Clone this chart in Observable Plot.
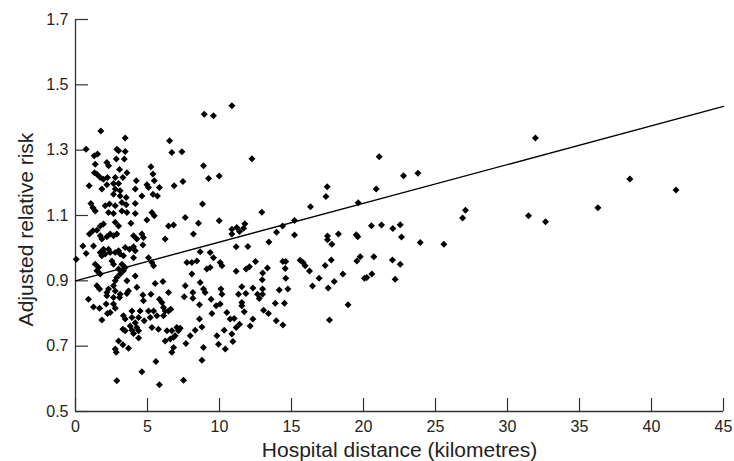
<!DOCTYPE html>
<html><head><meta charset="utf-8">
<script src="https://cdn.jsdelivr.net/npm/d3@7"></script>
<script src="https://cdn.jsdelivr.net/npm/@observablehq/plot@0.6"></script>
<style>html,body{margin:0;padding:0;background:#fff}#chart svg{display:block}</style>
</head><body><div id="chart"></div>
<script>
// Hospital distance (km) and adjusted relative risk
const distance = [
31.94,31.46,32.64,36.28,38.5,41.7,
10.86,12.25,21.09,22.78,23.78,17.48,17.39,20.88,19.63,16.32,12.94,15.21,14.38,
10.86,10.86,11.2,11.39,11.67,11.76,13.96,13.43,15.21,11.16,11.97,17.5,17.5,17.8,18.26,19.5,19.6,
20.55,21.25,22.04,22.55,22.64,23.94,25.58,26.88,27.08,
11.16,11.85,12.08,12.5,13.0,13.33,14.4,14.6,14.56,15.6,15.8,15.95,16.25,17.34,17.76,18.57,19.54,19.77,
20.72,22.01,22.55,20.58,20.07,20.23,22.2,12.97,14.6,16.92,17.97,
11.02,10.86,10.93,11.16,11.39,11.32,11.83,11.55,11.55,11.55,11.72,12.32,12.32,12.13,12.64,12.76,12.99,12.99,
13.06,13.4,13.87,14.15,13.94,14.4,14.51,14.75,16.46,17.55,18.93,17.64,
0.74,1.76,0.95,1.37,3.45,2.87,2.99,3.45,1.3,1.53,2.83,3.39,2.18,2.3,3.06,3.57,1.32,1.49,1.72,1.94,2.22,2.76,3.29,
2.18,2.64,2.99,1.83,2.76,3.1,2.64,3.1,3.52,1.07,1.21,1.37,2.06,2.36,2.76,3.22,3.52,2.29,2.64,3.22,3.57,
4.22,4.15,4.61,4.15,4.15,3.85,5.24,5.38,5.47,4.96,5.07,5.83,5.38,5.69,5.31,5.47,4.96,
6.53,6.69,7.39,6.85,7.46,7.62,6.46,6.81,8.54,8.94,9.58,8.89,9.24,9.98,8.82,9.98,
1.94,2.76,2.99,6.23,8.19,
0.05,0.51,0.74,0.97,1.21,1.49,1.72,1.25,1.72,1.83,2.18,2.41,2.64,2.87,1.94,1.72,1.83,2.06,1.37,1.6,1.49,1.72,
2.29,2.41,2.53,2.64,2.76,2.99,3.1,3.33,3.45,3.75,3.22,3.45,3.33,2.99,3.1,2.87,2.76,
4.03,4.26,4.03,4.15,4.03,4.61,4.72,4.68,5.31,5.42,5.07,4.15,4.26,3.57,3.68,3.57,3.1,3.06,2.64,2.29,2.76,2.64,2.18,2.18,
1.49,1.67,2.64,2.76,2.41,2.13,1.83,2.22,3.33,3.45,3.92,3.92,4.15,3.8,3.92,3.29,3.45,4.26,4.38,4.03,4.38,
2.99,3.29,3.68,2.76,2.83,2.87,4.61,5.58,5.83,7.5,
4.38,4.49,4.72,4.77,5.07,5.19,5.42,5.65,5.31,5.76,4.68,5.24,5.53,6.07,5.83,6.0,6.11,6.23,6.11,6.46,6.62,6.46,
6.35,6.69,6.23,6.58,6.81,6.92,7.15,7.04,7.27,6.81,6.69,7.67,7.97,8.31,8.78,8.61,7.62,7.55,
7.74,8.08,8.43,8.08,8.15,8.15,8.66,8.66,8.61,8.89,9.0,9.12,9.35,8.89,8.78,9.35,9.58,9.42,9.47,9.77,9.82,9.93,
10.05,10.17,10.1,10.17,10.05,10.4,10.33,10.51,10.74,0.9,1.67,1.25
];
const risk = [
1.337,1.099,1.081,1.124,1.212,1.178,
1.436,1.274,1.28,1.222,1.229,1.188,1.158,1.181,1.139,1.127,1.110,1.085,1.068,
1.058,1.043,1.063,1.051,1.061,1.075,1.049,1.019,1.04,1.004,1.005,1.037,1.026,1.012,1.043,1.041,1.035,
1.069,1.071,1.06,1.072,1.034,1.017,1.012,1.092,1.116,
0.929,0.936,0.943,0.959,0.924,0.939,0.959,0.959,0.938,0.963,0.956,0.946,0.93,0.947,0.964,0.921,0.961,0.974,
0.974,0.964,0.951,0.921,0.908,0.91,0.905,0.903,0.908,0.908,0.898,
0.785,0.737,0.714,0.757,0.767,0.859,0.861,0.882,0.834,0.824,0.805,0.878,0.783,0.762,0.859,0.846,0.875,0.859,
0.81,0.8,0.831,0.872,0.778,0.765,0.831,0.875,0.884,0.878,0.827,0.78,
1.303,1.359,1.191,1.257,1.337,1.303,1.298,1.296,1.283,1.288,1.273,1.273,1.262,1.252,1.241,1.231,1.231,1.226,1.216,1.211,1.216,1.216,1.216,
1.194,1.198,1.198,1.181,1.181,1.176,1.165,1.16,1.155,1.137,1.124,1.114,1.13,1.135,1.13,1.14,1.133,1.109,1.106,1.114,1.109,
1.206,1.181,1.16,1.137,1.106,1.076,1.249,1.227,1.206,1.194,1.186,1.186,1.165,1.16,1.109,1.099,1.086,
1.329,1.293,1.295,1.191,1.204,1.094,1.068,1.071,1.076,1.41,1.405,1.252,1.213,1.221,1.135,1.084,
1.074,1.079,1.068,1.028,1.043,
0.966,1.007,0.984,1.043,1.053,1.055,1.068,1.007,1.038,1.028,1.035,1.043,1.038,1.043,0.997,0.987,0.977,0.982,0.951,0.941,0.931,0.921,
0.997,0.987,0.961,0.951,0.987,0.992,0.982,0.977,1.002,0.997,0.951,0.941,0.931,0.936,0.921,0.910,0.9,
1.038,1.028,1.004,0.992,0.971,1.043,1.033,1.01,0.956,0.946,0.971,0.915,0.88,0.9,0.869,0.861,0.859,0.849,0.885,0.875,0.869,0.849,0.864,0.854,
0.885,0.875,0.829,0.816,0.803,0.829,0.78,0.8,0.793,0.783,0.808,0.788,0.772,0.762,0.749,0.752,0.747,0.757,0.747,0.739,0.725,
0.716,0.704,0.694,0.691,0.681,0.594,0.622,0.653,0.582,0.596,
0.788,0.808,0.839,0.778,0.808,0.788,0.808,0.793,0.757,0.752,0.857,0.859,0.892,0.898,0.844,0.834,0.818,0.808,0.793,0.808,0.813,0.864,
0.747,0.747,0.716,0.722,0.727,0.732,0.747,0.757,0.755,0.696,0.681,0.708,0.732,0.749,0.759,0.783,0.885,0.851,
0.956,0.956,0.961,0.921,0.864,0.847,0.989,0.895,0.827,0.875,0.864,0.936,0.941,0.696,0.657,0.987,0.971,0.844,0.8,0.824,0.732,0.706,
0.956,0.946,0.875,0.859,0.829,0.691,0.749,0.803,0.783,0.844,0.816,0.82
];
// Fitted regression line end points
const fitDistance = [0, 45];
const fitRisk = [0.9, 1.434];
// Axis ticks
const xTicks = [0, 5, 10, 15, 20, 25, 30, 35, 40, 45];
const yTicks = [0.5, 0.7, 0.9, 1.1, 1.3, 1.5, 1.7];
const xTitle = "Hospital distance (kilometres)";
const yTitle = "Adjusted relative risk";

const n = Math.min(distance.length, risk.length);
const points = d3.range(n).map(i => ({distance: distance[i], risk: risk[i]}));
const fit = fitDistance.map((d, i) => ({distance: d, risk: fitRisk[i]}));

const diamond = {
  draw(ctx, size) {
    const h = Math.sqrt(size / Math.PI) * 1.25;
    ctx.moveTo(0, -h); ctx.lineTo(h, 0); ctx.lineTo(0, h); ctx.lineTo(-h, 0); ctx.closePath();
  }
};

const ink = "#222";
const chart = Plot.plot({
  width: 734, height: 461,
  marginLeft: 75, marginRight: 11, marginTop: 19, marginBottom: 50,
  style: {fontFamily: "'Liberation Sans', Arial, Helvetica, sans-serif", fontSize: "16px", color: ink, background: "#fff"},
  x: {domain: [0, 45]},
  y: {domain: [0.5, 1.7]},
  marks: [
    Plot.axisX(xTicks, {tickSize: -13, tickFormat: () => "", label: null, stroke: "#333", strokeWidth: 1.2}),
    Plot.axisX(xTicks, {tickSize: 0, tickPadding: 9, label: null, fontSize: 16}),
    Plot.axisY(yTicks, {tickSize: -13, tickFormat: () => "", label: null, stroke: "#333", strokeWidth: 1.2}),
    Plot.axisY(yTicks, {tickSize: 0, tickPadding: 7, label: null, fontSize: 16, tickFormat: d3.format(".1f")}),
    Plot.ruleY([0.5], {stroke: "#333", strokeWidth: 1.3}),
    Plot.ruleX([0], {stroke: "#333", strokeWidth: 1.3}),
    Plot.text([xTitle], {frameAnchor: "bottom", textAnchor: "middle", lineAnchor: "top", dy: 31, fontSize: 21, fill: ink}),
    Plot.text([yTitle], {frameAnchor: "left", textAnchor: "middle", lineAnchor: "top", rotate: -90, dx: -57, dy: 14, fontSize: 21, fill: ink}),
    Plot.line(fit, {x: "distance", y: "risk", stroke: "#000", strokeWidth: 1.4}),
    Plot.dot(points, {x: "distance", y: "risk", symbol: diamond, r: 2.8, fill: "#000", stroke: "none"})
  ]
});
document.getElementById("chart").appendChild(chart);
</script>
</body></html>
